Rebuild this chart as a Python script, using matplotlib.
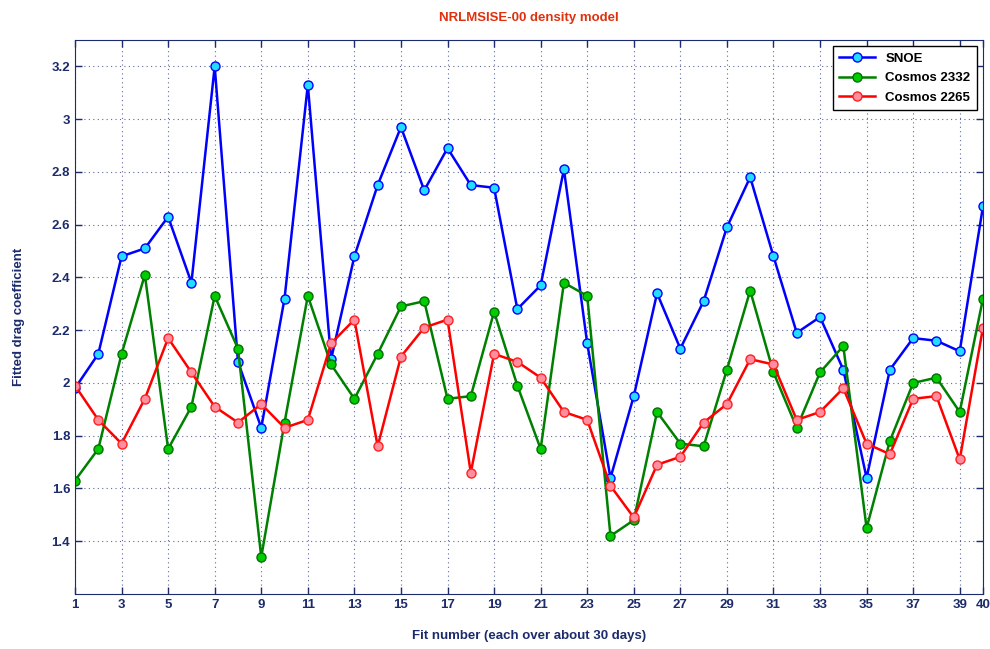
import numpy as np
import matplotlib
matplotlib.use('Agg')
import matplotlib.pyplot as plt

fit_number = np.arange(1, 41)

snoe = [1.98, 2.11, 2.48, 2.51, 2.63, 2.38, 3.20, 2.08, 1.83, 2.32,
        3.13, 2.09, 2.48, 2.75, 2.97, 2.73, 2.89, 2.75, 2.74, 2.28,
        2.37, 2.81, 2.15, 1.64, 1.95, 2.34, 2.13, 2.31, 2.59, 2.78,
        2.48, 2.19, 2.25, 2.05, 1.64, 2.05, 2.17, 2.16, 2.12, 2.67]
cosmos_2332 = [1.63, 1.75, 2.11, 2.41, 1.75, 1.91, 2.33, 2.13, 1.34, 1.85,
               2.33, 2.07, 1.94, 2.11, 2.29, 2.31, 1.94, 1.95, 2.27, 1.99,
               1.75, 2.38, 2.33, 1.42, 1.48, 1.89, 1.77, 1.76, 2.05, 2.35,
               2.04, 1.83, 2.04, 2.14, 1.45, 1.78, 2.00, 2.02, 1.89, 2.32]
cosmos_2265 = [1.99, 1.86, 1.77, 1.94, 2.17, 2.04, 1.91, 1.85, 1.92, 1.83,
               1.86, 2.15, 2.24, 1.76, 2.10, 2.21, 2.24, 1.66, 2.11, 2.08,
               2.02, 1.89, 1.86, 1.61, 1.49, 1.69, 1.72, 1.85, 1.92, 2.09,
               2.07, 1.86, 1.89, 1.98, 1.77, 1.73, 1.94, 1.95, 1.71, 2.21]

x_ticks = list(range(1, 40, 2)) + [40]
y_ticks = [1.4, 1.6, 1.8, 2.0, 2.2, 2.4, 2.6, 2.8, 3.0, 3.2]
y_labels = ['1.4', '1.6', '1.8', '2', '2.2', '2.4', '2.6', '2.8', '3', '3.2']

navy = '#1c2b6b'
plt.rcParams['font.family'] = ['Liberation Sans', 'DejaVu Sans']
plt.rcParams['font.weight'] = 'bold'

fig = plt.figure(figsize=(9.9, 6.49), dpi=100)
ax = fig.add_axes([75 / 990, 1 - 594 / 649, 908 / 990, 554 / 649])

ax.plot(fit_number, snoe, '-o', color='#0000ff', lw=1.8, ms=6.5,
        mfc='#22ddff', mec='#0000ff', mew=1.0, label='SNOE')
ax.plot(fit_number, cosmos_2332, '-o', color='#008000', lw=1.8, ms=6.5,
        mfc='#00cc00', mec='#007000', mew=1.0, label='Cosmos 2332')
ax.plot(fit_number, cosmos_2265, '-o', color='#ff0000', lw=1.8, ms=6.5,
        mfc='#ff8fa0', mec='#ff2020', mew=1.0, label='Cosmos 2265')

ax.set_xlim(1, 40)
ax.set_ylim(1.2, 3.3)
ax.set_xticks(x_ticks)
ax.set_yticks(y_ticks)
ax.set_yticklabels(y_labels)
ax.tick_params(direction='in', top=True, right=True, colors=navy,
               labelsize=9.5, length=5, width=1)
for lbl in ax.get_xticklabels() + ax.get_yticklabels():
    lbl.set_fontweight('bold')
for sp in ax.spines.values():
    sp.set_color(navy)
ax.grid(True, linestyle=(0, (1, 3)), color=navy, lw=0.8, alpha=0.7)

ax.set_title('NRLMSISE-00 density model', color='#e0300e', fontsize=9.5,
             fontweight='bold', pad=14)
ax.set_xlabel('Fit number (each over about 30 days)', color=navy,
              fontsize=9.5, fontweight='bold', labelpad=14)
ax.set_ylabel('Fitted drag coefficient', color=navy, fontsize=9.5,
              fontweight='bold', labelpad=19)

leg = ax.legend(loc='upper right', fancybox=False, edgecolor='black',
                fontsize=9.5, borderaxespad=0.45, handlelength=2.7,
                labelspacing=0.55, borderpad=0.5, framealpha=1)
leg.get_frame().set_linewidth(1.0)

fig.savefig('out.png', dpi=100)
